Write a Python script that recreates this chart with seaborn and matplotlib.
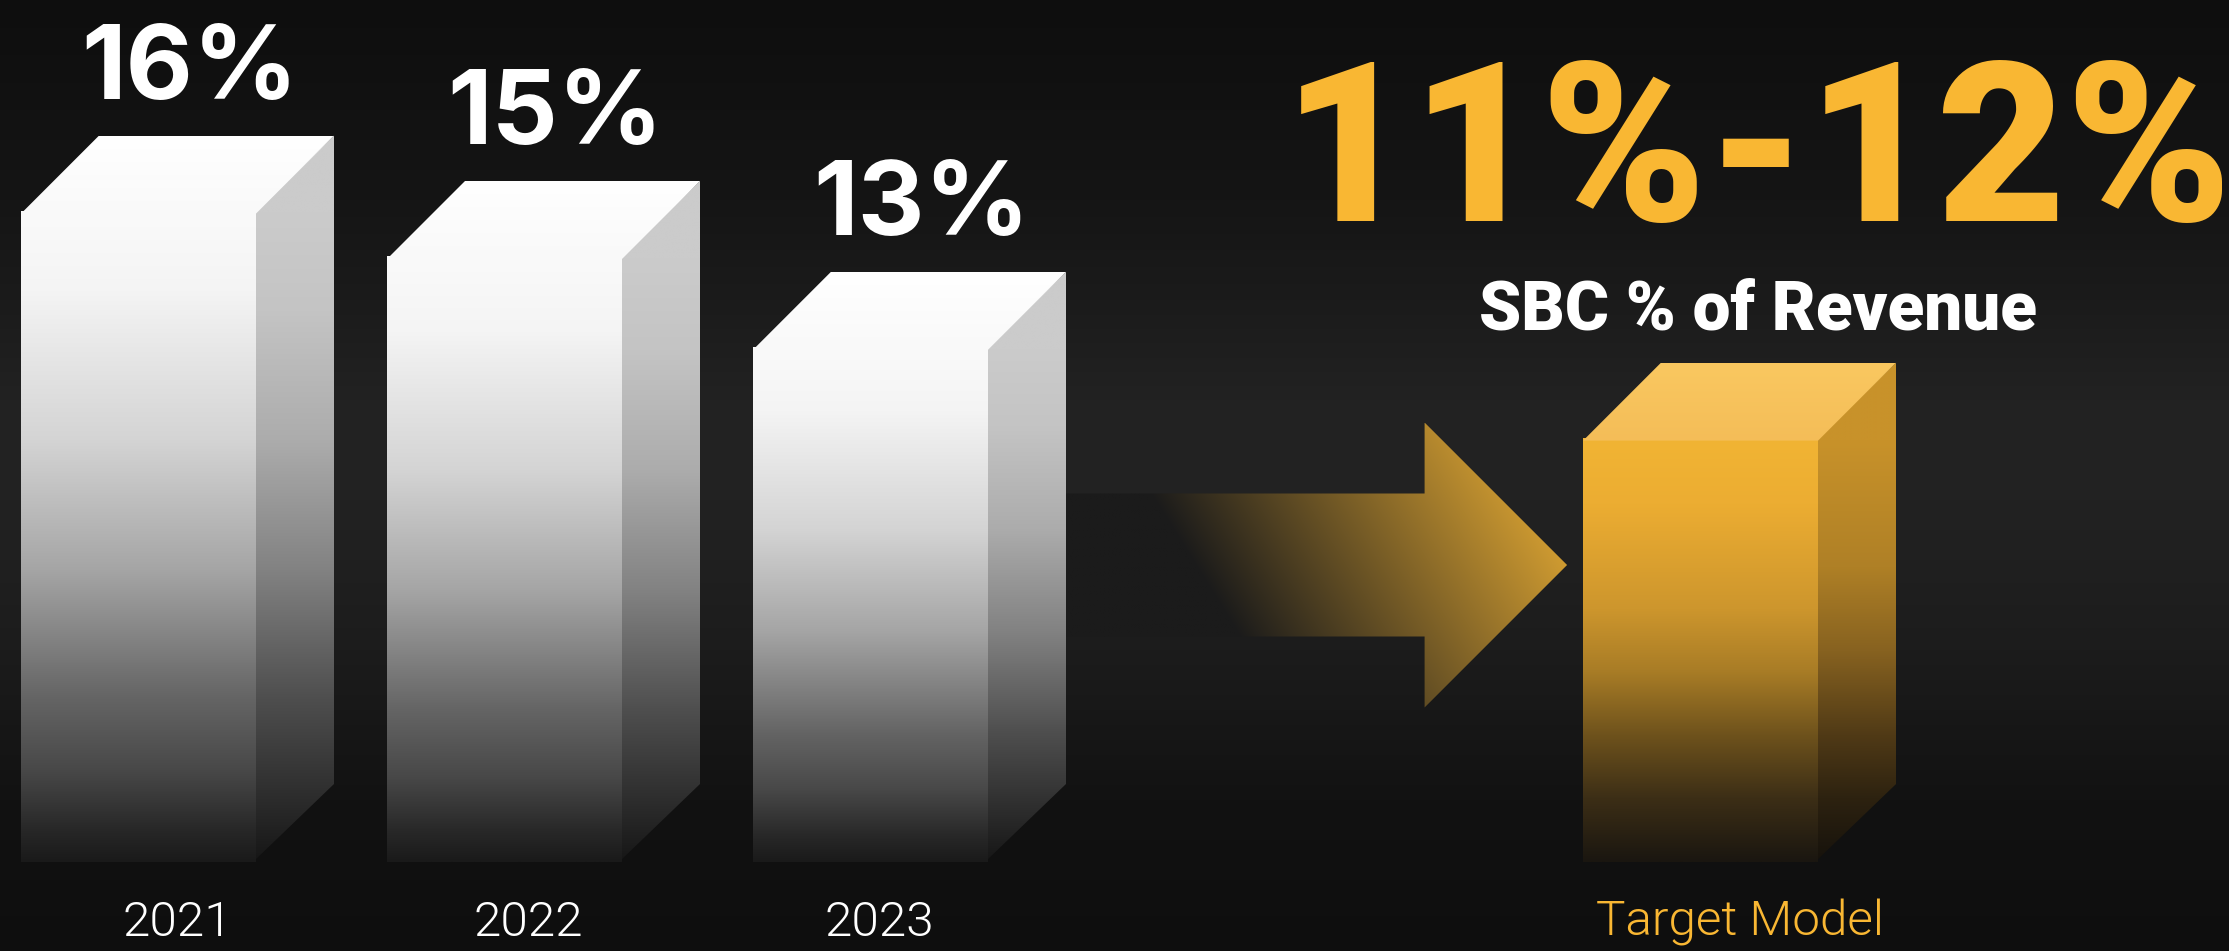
import numpy as np
import pandas as pd
import matplotlib
matplotlib.use("Agg")
import matplotlib.pyplot as plt
import seaborn as sns
from matplotlib import font_manager as fm
from matplotlib.patches import Polygon
from matplotlib.textpath import TextPath

# ---- data -------------------------------------------------------------
years = ["2021", "2022", "2023"]
sbc_pct = [16, 15, 13]
target_label = "Target Model"
target_range = [11, 12]
subtitle = "SBC % of Revenue"

# ---- layout -----------------------------------------------------------
W, H, DPI = 2229, 951, 100
BASE_PX = 862            # baseline row, counted from the top
PX_PER_PCT = 45.4        # vertical scale
SLOT_PX = 366            # horizontal scale (one slot)
FIRST_CENTER_PX = 138.5
SLOTS = [0, 1, 2, 4.268]
BAR_W = 235 / SLOT_PX
DEPTH_X = 78 / SLOT_PX
DEPTH_Y = 78 / PX_PER_PCT
LABEL_NUDGE = [0.0, -0.041, -0.083, 0.0]
OVERLAP_X = 3 / SLOT_PX   # faces overlap slightly so no seams show
OVERLAP_Y = 3 / PX_PER_PCT

GOLD = "#f9b733"

# ---- fonts ------------------------------------------------------------
def _w(v):
    if isinstance(v, (int, float)):
        return int(v)
    return fm.weight_dict.get(str(v).lower(), 400)


def pick_font(families, weight, tol=150):
    for fam in families:
        cands = [f for f in fm.fontManager.ttflist
                 if f.name == fam and f.style == "normal"]
        if not cands:
            continue
        best = min(cands, key=lambda f: abs(_w(f.weight) - weight))
        if abs(_w(best.weight) - weight) <= tol:
            return fm.FontProperties(fname=best.fname)
    return fm.FontProperties(family="DejaVu Sans",
                             weight="bold" if weight >= 600 else "light")


fp_black = pick_font(["Roboto", "Lato", "Inter", "Noto Sans", "Open Sans",
                      "Liberation Sans"], 900)
fp_bold = pick_font(["Inter", "Roboto", "Liberation Sans", "Lato"], 700)
fp_light = pick_font(["Roboto", "Inter", "Lato", "Open Sans", "Noto Sans"], 300)


def fit_size(fp, sample, px_h, full=None, px_w=None):
    ext = TextPath((0, 0), sample, size=100, prop=fp).get_extents()
    size = px_h / (ext.height / 100) * 72 / DPI
    if full is not None and px_w is not None:
        ext_w = TextPath((0, 0), full, size=100, prop=fp).get_extents()
        size = min(size, px_w / (ext_w.width / 100) * 72 / DPI)
    return size


# ---- colour ramps ------------------------------------------------------
def ramp(t, stops):
    pos = [s[0] for s in stops]
    out = np.empty(t.shape + (3,))
    for c in range(3):
        out[..., c] = np.interp(t, pos, [s[1][c] for s in stops]) / 255
    return out


WHITE_FRONT = [(0, (250, 250, 250)), (0.12, (244, 244, 244)),
               (0.35, (212, 212, 212)), (0.55, (165, 165, 165)),
               (0.75, (100, 100, 100)), (0.86, (72, 72, 72)),
               (0.95, (40, 40, 40)), (1.0, (26, 26, 26))]
WHITE_SIDE = [(0, (203, 203, 203)), (0.15, (196, 196, 196)),
              (0.35, (172, 172, 172)), (0.55, (130, 130, 130)),
              (0.75, (78, 78, 78)), (0.9, (45, 45, 45)), (1.0, (22, 22, 22))]
WHITE_TOP = [(0, (249, 249, 249)), (1, (255, 255, 255))]

GOLD_FRONT = [(0, (241, 180, 52)), (0.15, (236, 173, 50)),
              (0.4, (205, 150, 45)), (0.55, (168, 124, 38)),
              (0.7, (110, 82, 28)), (0.85, (60, 46, 22)), (1.0, (26, 22, 16))]
GOLD_SIDE = [(0, (200, 146, 42)), (0.3, (175, 128, 38)),
             (0.5, (135, 98, 32)), (0.7, (80, 58, 22)),
             (0.85, (45, 34, 16)), (1.0, (22, 18, 12))]
GOLD_TOP = [(0, (244, 189, 88)), (1, (250, 200, 96))]


def paint(ax, verts, colour_fn, zorder=2, nx=300, ny=400):
    verts = np.asarray(verts)
    x0, y0 = verts.min(axis=0)
    x1, y1 = verts.max(axis=0)
    X, Y = np.meshgrid(np.linspace(x0, x1, nx), np.linspace(y0, y1, ny))
    rgb = colour_fn(X, Y)
    clip = Polygon(verts, closed=True, facecolor="none", edgecolor="none")
    ax.add_patch(clip)
    im = ax.imshow(rgb, extent=[x0, x1, y0, y1], origin="lower",
                   aspect="auto", interpolation="bilinear", zorder=zorder)
    im.set_clip_path(clip)
    return im


# ---- figure & background ----------------------------------------------
fig = plt.figure(figsize=(W / DPI, H / DPI), dpi=DPI)
bg = fig.add_axes([0, 0, 1, 1])
bg.set_axis_off()
rows = np.arange(H)
shade = np.interp(rows, [0, 110, 200, 300, 400, 470, 560, 650, 740, 800, 880, 951],
                  [14, 18, 21, 27, 34, 35, 32, 28, 22, 18, 16, 14]) / 255
bg_img = np.repeat(shade[:, None], 2, axis=1)
bg.imshow(np.dstack([bg_img] * 3), extent=[0, 1, 0, 1], origin="upper",
          aspect="auto", interpolation="bilinear")
bg.set_xlim(0, 1)
bg.set_ylim(0, 1)

ax = fig.add_axes([0, (H - BASE_PX) / H, 1, BASE_PX / H])
ax.patch.set_alpha(0)

df = pd.DataFrame({
    "slot": SLOTS,
    "value": sbc_pct + [target_range[0]],
    "label": years + [target_label],
})
sns.barplot(data=df, x="slot", y="value", native_scale=True, width=BAR_W,
            errorbar=None, color="white", saturation=1, ax=ax)

bars = sorted(ax.patches, key=lambda p: p.get_x())
geo = []
for i, p in enumerate(bars):
    x0, w, v = p.get_x(), p.get_width(), p.get_height()
    fh = v - DEPTH_Y
    p.set_height(fh)
    p.set_facecolor("none")
    p.set_edgecolor("none")
    geo.append((x0, w, v, fh))

    is_target = i == len(bars) - 1
    front_stops = GOLD_FRONT if is_target else WHITE_FRONT
    side_stops = GOLD_SIDE if is_target else WHITE_SIDE
    top_stops = GOLD_TOP if is_target else WHITE_TOP

    # front reaches a little under the top face; side a little under the front
    front = [(x0, 0), (x0 + w, 0), (x0 + w, fh + OVERLAP_Y), (x0, fh + OVERLAP_Y)]
    side = [(x0 + w - OVERLAP_X, 0), (x0 + w + DEPTH_X, DEPTH_Y),
            (x0 + w + DEPTH_X, v), (x0 + w - OVERLAP_X, fh)]
    top = [(x0, fh), (x0 + w, fh), (x0 + w + DEPTH_X, v), (x0 + DEPTH_X, v)]

    paint(ax, side, lambda X, Y, s=side_stops, h=fh:
          ramp(np.clip((h - Y) / h, 0, 1), s), nx=4, zorder=2)
    paint(ax, front, lambda X, Y, s=front_stops, h=fh:
          ramp(np.clip((h - Y) / h, 0, 1), s), nx=4, zorder=3)
    paint(ax, top, lambda X, Y, s=top_stops, h=fh, d=DEPTH_Y:
          ramp(np.clip((Y - h) / d, 0, 1), s), nx=4, zorder=4)

# value labels above the historical bars
val_size = fit_size(fp_bold, "1", 80, "16%", 203)
for (x0, w, v, fh), val in zip(geo[:3], sbc_pct):
    ax.text(x0 + (w + DEPTH_X) / 2 + 0.033, v + 37 / PX_PER_PCT, f"{val}%",
            ha="center", va="baseline", color="white",
            fontproperties=fp_bold, fontsize=val_size, zorder=5)

# target range headline
tx0, tw, tv, tfh = geo[3]
t_center = tx0 + (tw + DEPTH_X) / 2 + 0.05
head_txt = f"{target_range[0]}%-{target_range[1]}%"
ax.text(t_center, (BASE_PX - 221) / PX_PER_PCT, head_txt,
        ha="center", va="baseline", color=GOLD, fontproperties=fp_black,
        fontsize=fit_size(fp_black, "1", 161, head_txt, 922), zorder=5)
ax.text(t_center, (BASE_PX - 330) / PX_PER_PCT, subtitle,
        ha="center", va="baseline", color="white", fontproperties=fp_black,
        fontsize=fit_size(fp_black, "B", 48, subtitle, 571), zorder=5)

# arrow from the history to the target
x3, w3, v3, fh3 = geo[2]
cy = (BASE_PX - 565) / PX_PER_PCT
shaft = 71.5 / PX_PER_PCT
head = 142.5 / PX_PER_PCT
x_start = x3 + w3 + DEPTH_X
x_tip = tx0 - 16 / SLOT_PX
x_base = x_tip - 142.5 / SLOT_PX
arrow = [(x_start, cy + shaft), (x_base, cy + shaft), (x_base, cy + head),
         (x_tip, cy), (x_base, cy - head), (x_base, cy - shaft),
         (x_start, cy - shaft)]


def arrow_colour(X, Y):
    xp = FIRST_CENTER_PX + SLOT_PX * X
    yp = BASE_PX - PX_PER_PCT * Y
    proj = 0.849 * xp - 0.528 * yp
    a = np.clip((proj - 716) / (1045 - 716), 0, 1)[..., None]
    dark = np.array([27, 27, 27]) / 255
    gold = np.array([214, 160, 50]) / 255
    return dark * (1 - a) + gold * a


paint(ax, arrow, arrow_colour, nx=500, ny=300)

# category labels under the bars
tick_pos = [x0 + (w + DEPTH_X) / 2 + n for (x0, w, v, fh), n in zip(geo, LABEL_NUDGE)]
ax.set_xticks(tick_pos, years + [target_label])
ax.tick_params(axis="x", length=0, pad=(936 - BASE_PX) * 72 / DPI)
ax.set_yticks([])
light_size = fit_size(fp_light, "1", 35.3)
for lbl, col in zip(ax.get_xticklabels(), ["white"] * 3 + [GOLD]):
    lbl.set_color(col)
    lbl.set_fontproperties(fp_light)
    lbl.set_fontsize(light_size)
    lbl.set_va("baseline")
for s in ax.spines.values():
    s.set_visible(False)
ax.set_xlabel("")
ax.set_ylabel("")
ax.set_xlim(-FIRST_CENTER_PX / SLOT_PX, (W - FIRST_CENTER_PX) / SLOT_PX)
ax.set_ylim(0, BASE_PX / PX_PER_PCT)

fig.savefig("out.png", dpi=DPI)
